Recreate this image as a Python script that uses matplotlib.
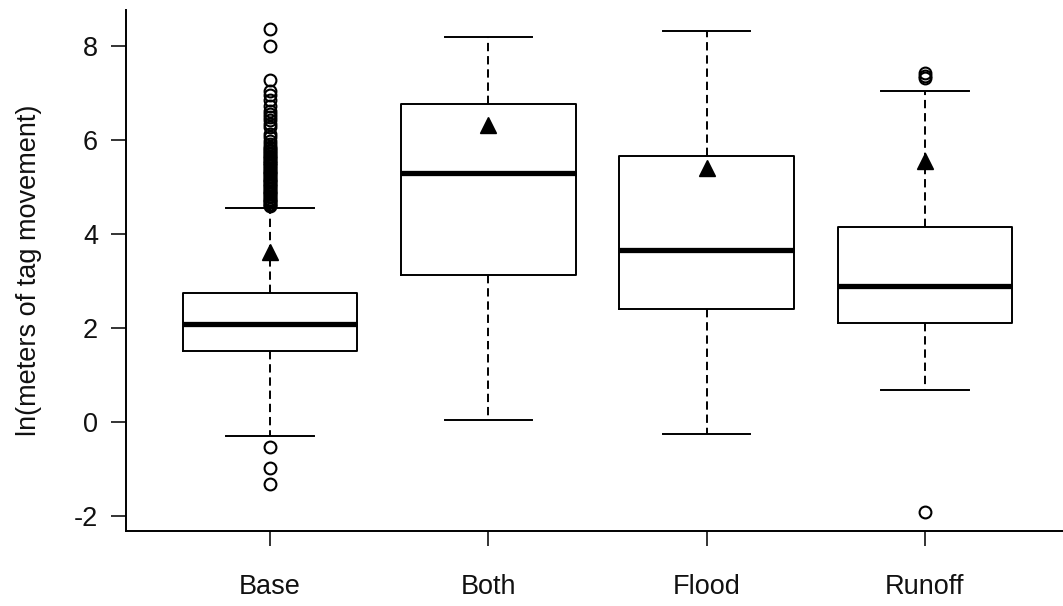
import matplotlib
matplotlib.use("Agg")
import matplotlib.pyplot as plt

plt.rcParams['font.family'] = ['Liberation Sans', 'DejaVu Sans']
plt.rcParams['lines.scale_dashes'] = False

categories = ["Base", "Both", "Flood", "Runoff"]
whislo = [-0.30, 0.04, -0.26, 0.68]
q1 = [1.51, 3.13, 2.41, 2.11]
med = [2.09, 5.29, 3.65, 2.90]
q3 = [2.73, 6.76, 5.65, 4.14]
whishi = [4.56, 8.20, 8.32, 7.04]
means = [3.62, 6.33, 5.40, 5.55]

base_outliers = [8.36, 8.00, 7.28, 7.05, 6.95, 6.85, 6.72, 6.62, 6.55, 6.48,
                 6.42, 6.34, 6.28, 6.12, 6.06, 5.98, 5.92, 5.86, 5.82, 5.79,
                 5.76, 5.73, 5.70, 5.67, 5.64, 5.61, 5.58, 5.55, 5.52, 5.50,
                 5.47, 5.44, 5.41, 5.38, 5.35, 5.32, 5.30, 5.27, 5.24, 5.21,
                 5.18, 5.15, 5.12, 5.10, 5.07, 5.04, 5.01, 4.98, 4.95, 4.92,
                 4.90, 4.87, 4.84, 4.81, 4.78, 4.75, 4.72, 4.70, 4.67, 4.64,
                 4.62, 4.60,
                 -0.53, -0.98, -1.32]
both_outliers = []
flood_outliers = []
runoff_outliers = [7.42, 7.37, 7.32, -1.92]
outliers = [base_outliers, both_outliers, flood_outliers, runoff_outliers]

yticks = [-2, 0, 2, 4, 6, 8]

W, H = 1063, 606
fig = plt.figure(figsize=(W / 100, H / 100), dpi=100)
ax_left, ax_right, ax_top, ax_bottom = 126, 1069, 10, 531
ax = fig.add_axes([ax_left / W, 1 - ax_bottom / H,
                   (ax_right - ax_left) / W, (ax_bottom - ax_top) / H])

stats = []
for i, c in enumerate(categories):
    stats.append(dict(label=c, whislo=whislo[i], q1=q1[i], med=med[i],
                      q3=q3[i], whishi=whishi[i], fliers=outliers[i]))

lw = 1.4
ax.bxp(stats, positions=[1, 2, 3, 4], widths=0.8, showfliers=True,
       boxprops=dict(color='black', linewidth=lw),
       medianprops=dict(color='black', linewidth=3.8, solid_capstyle='butt'),
       whiskerprops=dict(color='black', linewidth=lw, linestyle=(0, (6, 3.5))),
       capprops=dict(color='black', linewidth=lw),
       capwidths=0.4,
       flierprops=dict(marker='o', markerfacecolor='none',
                       markeredgecolor='black', markersize=8.5,
                       markeredgewidth=1.5, linestyle='none'))

ax.plot([1, 2, 3, 4], means, linestyle='none', marker='^', color='black',
        markersize=11.5, zorder=5)

ax.set_xlim(0.34, 4.66)
ax.set_ylim(-2.33, 8.77)
ax.set_yticks(yticks)
ax.set_yticklabels([str(v) for v in yticks])
ax.set_xticks([1, 2, 3, 4])
ax.set_xticklabels(categories)

for s in ['top', 'right']:
    ax.spines[s].set_visible(False)
for s in ['left', 'bottom']:
    ax.spines[s].set_linewidth(1.4)
    ax.spines[s].set_color('black')

ax.tick_params(axis='both', direction='out', length=11, width=1.2,
               labelsize=19.5, colors='#111111')
ax.tick_params(axis='y', pad=9)
ax.tick_params(axis='x', pad=20)
ax.set_ylabel("ln(meters of tag movement)", fontsize=19.5, color='#111111')
ax.yaxis.set_label_coords((42 - ax_left) / (ax_right - ax_left), 0.5)

fig.savefig("out.png", dpi=100, facecolor='white')
